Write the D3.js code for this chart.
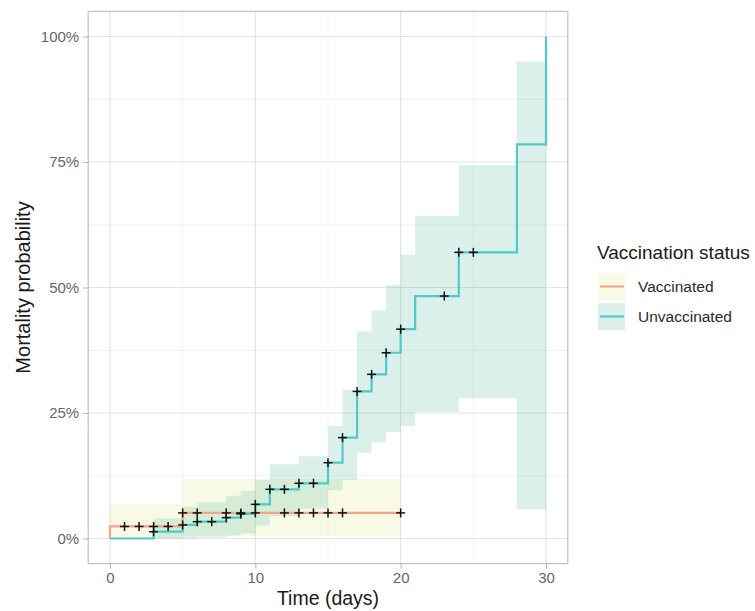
<!DOCTYPE html>
<html>
<head>
<meta charset="utf-8">
<script src="https://cdn.jsdelivr.net/npm/d3@7"></script>
<style>
  html, body { margin: 0; padding: 0; background: #fff; }
  svg { display: block; font-family: "Liberation Sans", Arial, Helvetica, sans-serif; }
</style>
</head>
<body>
<svg id="chart" width="755" height="611"></svg>
<script>
// Cumulative mortality (1 - Kaplan-Meier) by vaccination status
const groups = ["Vaccinated", "Unvaccinated"];

// Vaccinated: step curve
const vaxTimes = [0, 0, 5, 20];
const vaxMortality = [0, 0.024, 0.051, 0.051];
// Vaccinated: 95% confidence band
const vaxBandTimes = [0, 5, 20];
const vaxLower = [0, 0.005, 0.005];
const vaxUpper = [0.068, 0.119, 0.119];
// Vaccinated: censored observations
const vaxCensorTimes = [1, 2, 3, 4, 5, 6, 8, 9, 10, 12, 13, 14, 15, 16, 20];

// Unvaccinated: step curve
const unvaxTimes = [0, 3, 5, 6, 8, 9, 10, 11, 13, 15, 16, 17, 18, 19, 20, 21, 24, 28, 30];
const unvaxMortality = [0, 0.0135, 0.027, 0.0335, 0.0415, 0.049, 0.068, 0.098, 0.110, 0.151, 0.201, 0.293, 0.327, 0.370, 0.417, 0.483, 0.570, 0.785, 1.0];
// Unvaccinated: 95% confidence band
const unvaxBandTimes = [3, 5, 6, 8, 9, 10, 11, 13, 15, 16, 17, 18, 19, 20, 21, 24, 28, 30];
const unvaxLower = [0, 0, 0.002, 0.006, 0.010, 0.026, 0.045, 0.060, 0.096, 0.1165, 0.171, 0.191, 0.212, 0.224, 0.252, 0.280, 0.058, 0.058];
const unvaxUpper = [0.040, 0.063, 0.072, 0.085, 0.095, 0.1165, 0.148, 0.164, 0.224, 0.296, 0.413, 0.454, 0.505, 0.565, 0.643, 0.7435, 0.950, 0.950];
// Unvaccinated: censored observations
const unvaxCensorTimes = [3, 5, 6, 7, 8, 9, 10, 11, 12, 13, 14, 15, 16, 17, 18, 19, 20, 23, 24, 25];

// Axis ticks
const xMajorTicks = [0, 10, 20, 30];
const xMinorTicks = [5, 15, 25];
const yMajorTicks = [0, 0.25, 0.5, 0.75, 1];
const yMinorTicks = [0.125, 0.375, 0.625, 0.875];
const yTickLabels = ["0%", "25%", "50%", "75%", "100%"];

const lineColors = { "Vaccinated": "#F6A487", "Unvaccinated": "#4FC9C9" };
const bandColors = { "Vaccinated": "#D8E472", "Unvaccinated": "#3AAA8E" };
const bandOpacity = 0.18;

const svg = d3.select("#chart");
const panel = { left: 88.2, right: 567.8, top: 11.4, bottom: 563.6 };

const x = d3.scaleLinear().domain([-1.5, 31.5]).range([panel.left, panel.right]);
const y = d3.scaleLinear().domain([-0.05, 1.05]).range([panel.bottom, panel.top]);

// Gridlines
const grid = svg.append("g");
grid.selectAll(".xminor").data(xMinorTicks).join("line")
  .attr("x1", d => x(d)).attr("x2", d => x(d))
  .attr("y1", panel.top).attr("y2", panel.bottom)
  .attr("stroke", "#F0F0F0").attr("stroke-width", 0.8);
grid.selectAll(".yminor").data(yMinorTicks).join("line")
  .attr("y1", d => y(d)).attr("y2", d => y(d))
  .attr("x1", panel.left).attr("x2", panel.right)
  .attr("stroke", "#F0F0F0").attr("stroke-width", 0.8);
grid.selectAll(".xmajor").data(xMajorTicks).join("line")
  .attr("x1", d => x(d)).attr("x2", d => x(d))
  .attr("y1", panel.top).attr("y2", panel.bottom)
  .attr("stroke", "#E3E3E3").attr("stroke-width", 1.2);
grid.selectAll(".ymajor").data(yMajorTicks).join("line")
  .attr("y1", d => y(d)).attr("y2", d => y(d))
  .attr("x1", panel.left).attr("x2", panel.right)
  .attr("stroke", "#E3E3E3").attr("stroke-width", 1.2);

// Confidence bands
const band = d3.area()
  .curve(d3.curveStepAfter)
  .x(d => x(d.t))
  .y0(d => y(d.lo))
  .y1(d => y(d.hi));

const vaxBand = vaxBandTimes.map((t, i) => ({ t, lo: vaxLower[i], hi: vaxUpper[i] }));
const unvaxBand = unvaxBandTimes.map((t, i) => ({ t, lo: unvaxLower[i], hi: unvaxUpper[i] }));

svg.append("path").datum(vaxBand).attr("d", band)
  .attr("fill", bandColors["Vaccinated"]).attr("fill-opacity", bandOpacity);
svg.append("path").datum(unvaxBand).attr("d", band)
  .attr("fill", bandColors["Unvaccinated"]).attr("fill-opacity", bandOpacity);

// Step curves
const step = d3.line().curve(d3.curveStepAfter).x(d => x(d.t)).y(d => y(d.v));
const vaxCurve = vaxTimes.map((t, i) => ({ t, v: vaxMortality[i] }));
const unvaxCurve = unvaxTimes.map((t, i) => ({ t, v: unvaxMortality[i] }));

svg.append("path").datum(vaxCurve).attr("d", step)
  .attr("fill", "none").attr("stroke", lineColors["Vaccinated"]).attr("stroke-width", 2.2);
svg.append("path").datum(unvaxCurve).attr("d", step)
  .attr("fill", "none").attr("stroke", lineColors["Unvaccinated"]).attr("stroke-width", 2.2);

// Value of a step curve at time t (after any jump at t)
function valueAt(times, values, t) {
  let v = values[0];
  for (let i = 0; i < times.length; i++) if (times[i] <= t) v = values[i];
  return v;
}

// Censor marks
const censors = [
  ...vaxCensorTimes.map(t => ({ t, v: valueAt(vaxTimes, vaxMortality, t) })),
  ...unvaxCensorTimes.map(t => ({ t, v: valueAt(unvaxTimes, unvaxMortality, t) }))
];
const marks = svg.append("g");
marks.selectAll("g").data(censors).join("g")
  .attr("transform", d => `translate(${x(d.t)},${y(d.v)})`)
  .each(function () {
    const g = d3.select(this);
    g.append("line").attr("x1", -4.5).attr("x2", 4.5).attr("y1", 0).attr("y2", 0);
    g.append("line").attr("x1", 0).attr("x2", 0).attr("y1", -4.5).attr("y2", 4.5);
  })
  .attr("stroke", "#111").attr("stroke-width", 1.5);

// Panel border
svg.append("rect")
  .attr("x", panel.left).attr("y", panel.top)
  .attr("width", panel.right - panel.left).attr("height", panel.bottom - panel.top)
  .attr("fill", "none").attr("stroke", "#C2C2C2").attr("stroke-width", 1.2);

// Axes
const xAxis = d3.axisBottom(x).tickValues(xMajorTicks).tickSize(5).tickPadding(4);
const yAxis = d3.axisLeft(y).tickValues(yMajorTicks).tickSize(5).tickPadding(4)
  .tickFormat((d, i) => yTickLabels[i]);

const gx = svg.append("g").attr("transform", `translate(0,${panel.bottom})`).call(xAxis);
const gy = svg.append("g").attr("transform", `translate(${panel.left},0)`).call(yAxis);
[gx, gy].forEach(g => {
  g.select(".domain").remove();
  g.selectAll(".tick line").attr("stroke", "#B8B8B8").attr("stroke-width", 1.1);
  g.selectAll(".tick text").attr("fill", "#666")
    .style("font-size", "15px").style("font-family", "Liberation Sans, Arial, sans-serif");
});

// Axis titles
svg.append("text")
  .attr("x", (panel.left + panel.right) / 2).attr("y", 605)
  .attr("text-anchor", "middle").attr("fill", "#1a1a1a")
  .style("font-size", "19.5px").text("Time (days)");
svg.append("text")
  .attr("transform", `translate(30,${(panel.top + panel.bottom) / 2}) rotate(-90)`)
  .attr("text-anchor", "middle").attr("fill", "#1a1a1a")
  .style("font-size", "20px").text("Mortality probability");

// Legend
const legend = svg.append("g").attr("transform", "translate(597,0)");
legend.append("text").attr("x", 0).attr("y", 259)
  .attr("fill", "#1a1a1a").style("font-size", "19px").text("Vaccination status");
const keyTop = [273, 303];
groups.forEach((grp, i) => {
  const k = legend.append("g").attr("transform", `translate(1,${keyTop[i]})`);
  k.append("rect").attr("width", 27).attr("height", 27)
    .attr("fill", bandColors[grp]).attr("fill-opacity", bandOpacity);
  k.append("line").attr("x1", 2).attr("x2", 26).attr("y1", 13.5).attr("y2", 13.5)
    .attr("stroke", lineColors[grp]).attr("stroke-width", 2.2);
  k.append("text").attr("x", 40).attr("y", 13.5).attr("dy", "0.35em")
    .attr("fill", "#2a2a2a").style("font-size", "15.5px").text(grp);
});
</script>
</body>
</html>
